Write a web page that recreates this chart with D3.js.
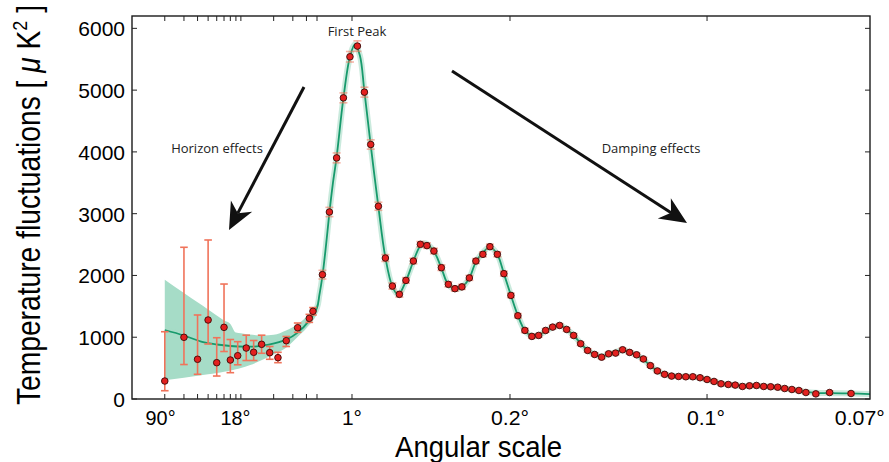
<html>
<head>
<meta charset="UTF-8">
<title>cmb spectrum</title>
<style>
  body { margin: 0; background: #fff; }
</style>
</head>
<body>
<script src="https://d3js.org/d3.v7.min.js"></script>
<script>
// low multipoles (log part of the axis), with asymmetric error bars
const lowEll = [2, 3, 4, 5, 6, 7, 8, 9.35, 11.2, 13.1, 15.5, 18.4, 21.9, 26.1, 33.2, 42.5, 45.9]
const lowD   = [291, 999, 643, 1279, 588, 1160, 631, 701, 825, 756, 885, 750, 669, 944, 1154, 1306, 1420]
const lowLo  = [134, 558, 400, 890, 372, 769, 426, 554, 623, 623, 740, 643, 588, 850, 1080, 1240, 1360]
const lowHi  = [1089, 2456, 1360, 2574, 992, 1861, 963, 928, 1033, 947, 1033, 850, 756, 1012, 1230, 1370, 1480]

// binned high multipoles (linear part)
const highEll = [74, 105, 137, 167, 196, 229, 260, 288, 322, 353,
  384, 415, 444, 477, 508, 537, 568, 601, 632, 661,
  692, 725, 754, 785, 816, 849, 878, 909, 940, 971,
  1002, 1032, 1063, 1094, 1125, 1156, 1187, 1218, 1249, 1280,
  1311, 1342, 1373, 1404, 1435, 1466, 1496, 1527, 1558, 1590,
  1621, 1652, 1684, 1715, 1747, 1778, 1809, 1840, 1872, 1903,
  1935, 1966, 1997, 2029, 2060, 2091, 2122, 2154, 2185, 2216,
  2260, 2321, 2416]
const highD = [2013, 3027, 3903, 4875, 5540, 5713, 4967, 4120, 3120, 2282,
  1828, 1694, 1920, 2233, 2504, 2483, 2395, 2126, 1856, 1786,
  1815, 1960, 2233, 2342, 2466, 2342, 2029, 1677, 1348, 1110,
  1013, 1029, 1110, 1164, 1191, 1126, 1029, 895, 786, 721,
  677, 732, 743, 797, 754, 716, 648, 540, 454, 399,
  371, 365, 360, 360, 344, 316, 284, 246, 235, 225,
  203, 214, 219, 203, 198, 191, 170, 154, 138, 105,
  83, 105, 89]
const highErr = [70, 75, 80, 80, 85, 85, 80, 75, 65, 55,
  50, 45, 45, 45, 45, 45, 45, 45, 40, 40,
  40, 40, 40, 40, 40, 40, 40, 35, 35, 35,
  30, 30, 30, 30, 30, 30, 30, 28, 28, 28,
  26, 26, 26, 26, 26, 26, 25, 25, 25, 25,
  24, 24, 24, 24, 24, 24, 24, 24, 24, 24,
  24, 24, 24, 24, 24, 24, 24, 24, 24, 24,
  24, 24, 24]

// best-fit model curve
const modelEll = [2, 3, 4.5, 6, 8, 11, 14, 18, 26, 33, 42, 50, 60, 74, 90, 105, 120, 137, 167, 196,
  218, 240, 260, 288, 322, 353, 384, 410, 444, 477, 508, 530, 568, 601, 632, 665, 692, 725, 754, 785,
  816, 849, 878, 909, 940, 971, 1002, 1032, 1063, 1094, 1130, 1156, 1187, 1218, 1249, 1280, 1311, 1342,
  1373, 1404, 1435, 1466, 1496, 1527, 1558, 1590, 1621, 1652, 1684, 1715, 1747, 1778, 1809, 1840, 1872,
  1903, 1935, 1966, 1997, 2029, 2060, 2091, 2122, 2154, 2185, 2216, 2260, 2321, 2416, 2500]
const modelD = [1117, 1028, 920, 882, 858, 848, 852, 880, 960, 1070, 1260, 1480, 1670, 1990, 2490, 3020, 3480, 3920, 4870, 5540,
  5740, 5560, 4980, 4110, 3110, 2290, 1820, 1690, 1910, 2230, 2480, 2520, 2390, 2120, 1850, 1780, 1810, 1960, 2220, 2370,
  2460, 2340, 2030, 1680, 1350, 1110, 1020, 1030, 1100, 1160, 1185, 1130, 1030, 900, 790, 720, 690, 720,
  760, 790, 760, 710, 640, 540, 455, 400, 375, 365, 362, 358, 342, 315, 285, 252, 235,
  222, 210, 213, 215, 205, 196, 186, 170, 152, 135, 115, 100, 95, 90, 80]

// cosmic variance band at low multipoles
const bandEll = [2, 3, 4, 5, 6, 7, 8, 9, 10, 12, 16, 20, 26, 33, 42, 50, 60]
const bandHi  = [1930, 1715, 1565, 1450, 1350, 1270, 1215, 1075, 1065, 1045, 1028, 1040, 1110, 1206, 1370, 1550, 1760]
const bandLo  = [305, 345, 375, 400, 420, 440, 460, 480, 500, 545, 640, 720, 830, 1000, 1200, 1400, 1590]

const yTicks = [0, 1000, 2000, 3000, 4000, 5000, 6000]
const angleLabels = ["90°", "18°", "1°", "0.2°", "0.1°", "0.07°"]
const angleEll = [1.83, 8.9, 205, 905, 1773, 2455]
const angleWidth = [30, 30, 20, 38, 38, 50]
const minorEll = [2, 3, 4, 5, 6, 7, 8, 9, 10, 20, 30, 40, 50, 205, 905, 1778]

const W = 889, H = 462
const mLeft = 132, mRight = 870, mTop = 16, mBottom = 399

const xLog = d3.scaleLog().domain([1, 50]).range([mLeft, 317])
const xLin = d3.scaleLinear().domain([50, 2500]).range([317, mRight])
const x = l => l < 50 ? xLog(l) : xLin(l)
const y = d3.scaleLinear().domain([0, 6200]).range([mBottom, mTop])

const svg = d3.select("body").append("svg")
  .attr("width", W).attr("height", H)
  .style("font-family", "'Liberation Sans', Arial, sans-serif")

const defs = svg.append("defs")
defs.append("clipPath").attr("id", "plot")
  .append("rect").attr("x", mLeft).attr("y", mTop).attr("width", mRight - mLeft).attr("height", mBottom - mTop)

const plot = svg.append("g").attr("clip-path", "url(#plot)")

// band
const band = d3.area()
  .x((d, i) => x(bandEll[i]))
  .y0((d, i) => y(bandLo[i]))
  .y1((d, i) => y(bandHi[i]))
  .curve(d3.curveMonotoneX)
plot.append("path").datum(bandEll)
  .attr("d", band)
  .attr("fill", "#a6dcc7")

// model line with a soft halo
const line = d3.line()
  .x((d, i) => x(modelEll[i]))
  .y((d, i) => y(modelD[i]))
  .curve(d3.curveCatmullRom.alpha(0.5))
plot.append("path").datum(modelEll)
  .attr("d", line).attr("fill", "none")
  .attr("stroke", "#a6dcc7").attr("stroke-width", 6).attr("stroke-opacity", 0.6)
plot.append("path").datum(modelEll)
  .attr("d", line).attr("fill", "none")
  .attr("stroke", "#179a6c").attr("stroke-width", 1.8)

// error bars
const errCol = "#f0735a"
const lowPts = lowEll.map((l, i) => ({ l: l, d: lowD[i], lo: lowLo[i], hi: lowHi[i] }))
const highPts = highEll.map((l, i) => ({ l: l, d: highD[i], lo: highD[i] - highErr[i], hi: highD[i] + highErr[i] }))

function errorBars(pts, cap, opacity) {
  const g = plot.append("g").attr("stroke", errCol).attr("stroke-width", 1.6).attr("stroke-opacity", opacity)
  const e = g.selectAll("g").data(pts).enter().append("g")
  e.append("line").attr("x1", d => x(d.l)).attr("x2", d => x(d.l))
    .attr("y1", d => y(d.lo)).attr("y2", d => y(d.hi))
  e.append("line").attr("x1", d => x(d.l) - cap).attr("x2", d => x(d.l) + cap)
    .attr("y1", d => y(d.lo)).attr("y2", d => y(d.lo))
  e.append("line").attr("x1", d => x(d.l) - cap).attr("x2", d => x(d.l) + cap)
    .attr("y1", d => y(d.hi)).attr("y2", d => y(d.hi))
}
errorBars(lowPts, 3.8, 1)
errorBars(highPts, 4, 0.55)

plot.append("g").selectAll("circle").data(lowPts.concat(highPts)).enter()
  .append("circle")
  .attr("cx", d => x(d.l)).attr("cy", d => y(d.d)).attr("r", 3.3)
  .attr("fill", "#e3211f").attr("stroke", "#3a0a08").attr("stroke-width", 0.9)

// frame and ticks
svg.append("rect").attr("x", mLeft).attr("y", mTop).attr("width", mRight - mLeft).attr("height", mBottom - mTop)
  .attr("fill", "none").attr("stroke", "#1a1a1a").attr("stroke-width", 1.4)

const tk = svg.append("g").attr("stroke", "#222").attr("stroke-width", 1)
yTicks.forEach(v => {
  tk.append("line").attr("x1", mLeft).attr("x2", mLeft + 5).attr("y1", y(v)).attr("y2", y(v))
  tk.append("line").attr("x1", mRight).attr("x2", mRight - 5).attr("y1", y(v)).attr("y2", y(v))
})
minorEll.forEach(l => {
  tk.append("line").attr("x1", x(l)).attr("x2", x(l)).attr("y1", mBottom).attr("y2", mBottom - 5)
  tk.append("line").attr("x1", x(l)).attr("x2", x(l)).attr("y1", mTop).attr("y2", mTop + 5)
})

svg.append("g").selectAll("text").data(yTicks).enter()
  .append("text")
  .attr("x", 125).attr("y", d => y(d) + 8)
  .attr("text-anchor", "end").attr("font-size", 21)
  .text(d => d)

svg.append("g").selectAll("text").data(angleLabels).enter()
  .append("text")
  .attr("x", (d, i) => x(angleEll[i])).attr("y", 425)
  .attr("text-anchor", "middle").attr("font-size", 21)
  .attr("textLength", (d, i) => angleWidth[i]).attr("lengthAdjust", "spacingAndGlyphs")
  .text(d => d)

svg.append("text")
  .attr("x", 478.5).attr("y", 457)
  .attr("text-anchor", "middle").attr("font-size", 30)
  .attr("textLength", 167).attr("lengthAdjust", "spacingAndGlyphs")
  .text("Angular scale")

const yl = svg.append("text")
  .attr("transform", "translate(40,205) rotate(-90)")
  .attr("text-anchor", "middle").attr("font-size", 33)
  .attr("textLength", 400).attr("lengthAdjust", "spacingAndGlyphs")
yl.append("tspan").text("Temperature fluctuations [ ")
yl.append("tspan").attr("font-style", "italic").text("μ")
yl.append("tspan").text(" K")
yl.append("tspan").attr("font-size", 21).attr("dy", -13).text("2")
yl.append("tspan").attr("dy", 13).text(" ]")

// annotations
const ann = svg.append("g").style("font-family", "'Open Sans', 'Lato', sans-serif").attr("font-size", 13).attr("fill", "#222")
ann.append("text").attr("x", 357).attr("y", 36).attr("text-anchor", "middle").text("First Peak")
ann.append("text").attr("x", 217).attr("y", 153).attr("text-anchor", "middle").text("Horizon effects")
ann.append("text").attr("x", 651).attr("y", 153).attr("text-anchor", "middle").text("Damping effects")

function arrow(x1, y1, x2, y2) {
  const a = Math.atan2(y2 - y1, x2 - x1)
  const len = 27, half = 12, notch = 19
  const p = (d, s) => [x2 - d * Math.cos(a) - s * Math.sin(a), y2 - d * Math.sin(a) + s * Math.cos(a)]
  svg.append("line").attr("x1", x1).attr("y1", y1)
    .attr("x2", p(notch, 0)[0]).attr("y2", p(notch, 0)[1])
    .attr("stroke", "#111").attr("stroke-width", 3)
  svg.append("path")
    .attr("d", "M" + [x2, y2] + "L" + p(len, half) + "L" + p(notch, 0) + "L" + p(len, -half) + "Z")
    .attr("fill", "#111")
}
arrow(304, 87, 229, 230)
arrow(452, 71, 687, 223)
</script>
</body>
</html>
